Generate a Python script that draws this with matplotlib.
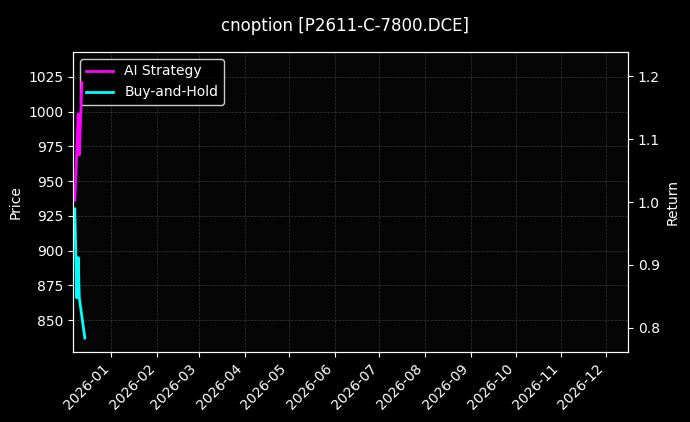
import matplotlib
matplotlib.use("Agg")
import matplotlib.pyplot as plt
import matplotlib.dates as mdates
import pandas as pd

dates = pd.to_datetime(["2025-12-07 06:00", "2025-12-08 12:00", "2025-12-09 12:00",
                        "2025-12-10 06:00", "2025-12-14 00:00"])
price = [930, 866, 895, 866, 837]
ai_dates = pd.to_datetime(["2025-12-07 06:00", "2025-12-08 12:00", "2025-12-09 12:00",
                           "2025-12-10 06:00", "2025-12-12 00:00"])
ai_return = [1.003, 1.075, 1.14, 1.075, 1.19]

plt.style.use("dark_background")
fig = plt.figure(figsize=(6.9, 4.22), dpi=100)
fig.patch.set_facecolor("black")
ax = fig.add_axes([73/690, 70/422, 555/690, 300/422])
ax.set_facecolor("#050505")
ax2 = ax.twinx()
l1, = ax2.plot(ai_dates, ai_return, color="magenta", lw=2, label="AI Strategy")
l2, = ax.plot(dates, price, color="cyan", lw=2, label="Buy-and-Hold")
ax.set_ylim(827, 1043)
ax2.set_ylim(0.761, 1.239)
ax.set_xlim(pd.Timestamp("2025-12-06"), pd.Timestamp("2026-12-16"))
ax.xaxis.set_major_locator(mdates.MonthLocator())
ax.xaxis.set_major_formatter(mdates.DateFormatter("%Y-%m"))
plt.setp(ax.get_xticklabels(), rotation=45, ha="right")
ax.grid(True, color="gray", ls="--", lw=0.5, alpha=0.4)
ax.set_ylabel("Price")
ax2.set_ylabel("Return")
ax.legend(handles=[l1, l2], loc="upper left", facecolor="black", edgecolor="white")
fig.suptitle("cnoption [P2611-C-7800.DCE]", y=0.96)
fig.savefig("out.png", dpi=100, facecolor="black")
